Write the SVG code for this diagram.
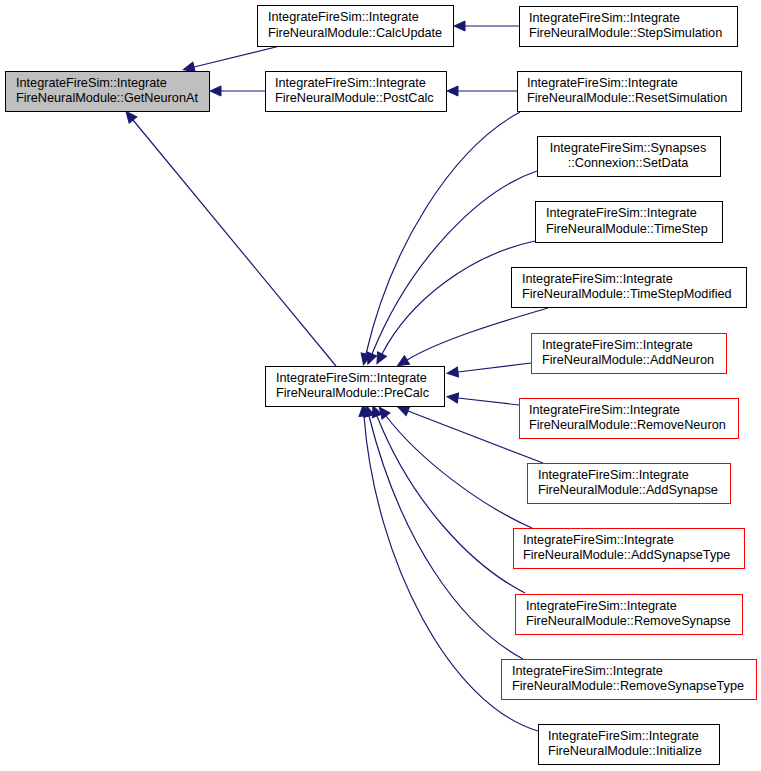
<svg xmlns="http://www.w3.org/2000/svg" width="761" height="771" viewBox="0 0 761 771">
<style>
.n rect{fill:#ffffff;stroke:#000000;stroke-width:1}
.n.r rect{stroke:#ff0000}
.n.h rect{fill:#bfbfbf}
.n text{font-family:"Liberation Sans",Arial,sans-serif;font-size:12.7px;fill:#000000}
.e path{fill:none;stroke:#191970;stroke-width:1.2;marker-end:url(#ah)}
</style>
<defs>
<marker id="ah" markerUnits="userSpaceOnUse" markerWidth="12" markerHeight="12" refX="0" refY="5" orient="auto" overflow="visible">
<path d="M0,0 L11,5 L0,10 z" fill="#191970" stroke="#191970" stroke-width="1"/>
</marker>
</defs>
<rect width="761" height="771" fill="#ffffff"/>
<g class="e" id="edges">
<path d="M280,46 L194,67"/>
<path d="M265,91 L221,91"/>
<path d="M519,26 L465,26"/>
<path d="M517,91 L458,91"/>
<path d="M336,366 L133,120"/>
<path d="M520,112 C450,150 390,250 366,354"/>
<path d="M537,171 C480,190 410,260 372,354"/>
<path d="M535,241 C470,255 410,300 382,354"/>
<path d="M548,308 C500,322 440,340 407,360"/>
<path d="M531,363 L458,372"/>
<path d="M519,405 L458,398"/>
<path d="M543,463 L408,411"/>
<path d="M532,528 C480,505 420,460 386,416"/>
<path d="M525,593 C470,565 410,500 377,416"/>
<path d="M523,659 C460,625 400,540 369,416"/>
<path d="M538,731 C450,705 375,560 364,416"/>
</g>
<g class="n h" id="GetNeuronAt"><rect x="5.5" y="71.5" width="204" height="40"/><text x="16" y="87">IntegrateFireSim::Integrate</text><text x="16" y="102">FireNeuralModule::GetNeuronAt</text></g>
<g class="n" id="CalcUpdate"><rect x="257.5" y="5.5" width="196" height="41"/><text x="268" y="21">IntegrateFireSim::Integrate</text><text x="268" y="36.5">FireNeuralModule::CalcUpdate</text></g>
<g class="n" id="PostCalc"><rect x="265.5" y="71.5" width="181" height="40"/><text x="275" y="87">IntegrateFireSim::Integrate</text><text x="275" y="102">FireNeuralModule::PostCalc</text></g>
<g class="n" id="StepSimulation"><rect x="519.5" y="6.5" width="218" height="40"/><text x="529" y="22">IntegrateFireSim::Integrate</text><text x="529" y="37">FireNeuralModule::StepSimulation</text></g>
<g class="n" id="ResetSimulation"><rect x="517.5" y="71.5" width="224" height="40"/><text x="527" y="87">IntegrateFireSim::Integrate</text><text x="527" y="102">FireNeuralModule::ResetSimulation</text></g>
<g class="n" id="PreCalc"><rect x="265.5" y="366.5" width="179" height="40"/><text x="276" y="382">IntegrateFireSim::Integrate</text><text x="276" y="397">FireNeuralModule::PreCalc</text></g>
<g class="n" id="SetData"><rect x="537.5" y="136.5" width="183" height="40"/><text x="628" y="152" text-anchor="middle">IntegrateFireSim::Synapses</text><text x="628" y="167" text-anchor="middle">::Connexion::SetData</text></g>
<g class="n" id="TimeStep"><rect x="535.5" y="201.5" width="187" height="41"/><text x="546" y="217">IntegrateFireSim::Integrate</text><text x="546" y="232.5">FireNeuralModule::TimeStep</text></g>
<g class="n" id="TimeStepModified"><rect x="511.5" y="267.5" width="235" height="40"/><text x="522" y="283">IntegrateFireSim::Integrate</text><text x="522" y="298">FireNeuralModule::TimeStepModified</text></g>
<g class="n r" id="AddNeuron"><rect x="531.5" y="333.5" width="195" height="40"/><text x="542" y="349">IntegrateFireSim::Integrate</text><text x="542" y="364">FireNeuralModule::AddNeuron</text></g>
<g class="n r" id="RemoveNeuron"><rect x="519.5" y="398.5" width="219" height="40"/><text x="529" y="414">IntegrateFireSim::Integrate</text><text x="529" y="429">FireNeuralModule::RemoveNeuron</text></g>
<g class="n r" id="AddSynapse"><rect x="527.5" y="463.5" width="203" height="40"/><text x="538" y="479">IntegrateFireSim::Integrate</text><text x="538" y="494">FireNeuralModule::AddSynapse</text></g>
<g class="n r" id="AddSynapseType"><rect x="513.5" y="528.5" width="231" height="40"/><text x="523" y="544">IntegrateFireSim::Integrate</text><text x="523" y="559">FireNeuralModule::AddSynapseType</text></g>
<g class="n r" id="RemoveSynapse"><rect x="515.5" y="594.5" width="227" height="40"/><text x="526" y="610">IntegrateFireSim::Integrate</text><text x="526" y="625">FireNeuralModule::RemoveSynapse</text></g>
<g class="n r" id="RemoveSynapseType"><rect x="501.5" y="659.5" width="255" height="40"/><text x="512" y="675">IntegrateFireSim::Integrate</text><text x="512" y="690">FireNeuralModule::RemoveSynapseType</text></g>
<g class="n" id="Initialize"><rect x="538.5" y="724.5" width="181" height="40"/><text x="548" y="740">IntegrateFireSim::Integrate</text><text x="548" y="755">FireNeuralModule::Initialize</text></g>
</svg>
